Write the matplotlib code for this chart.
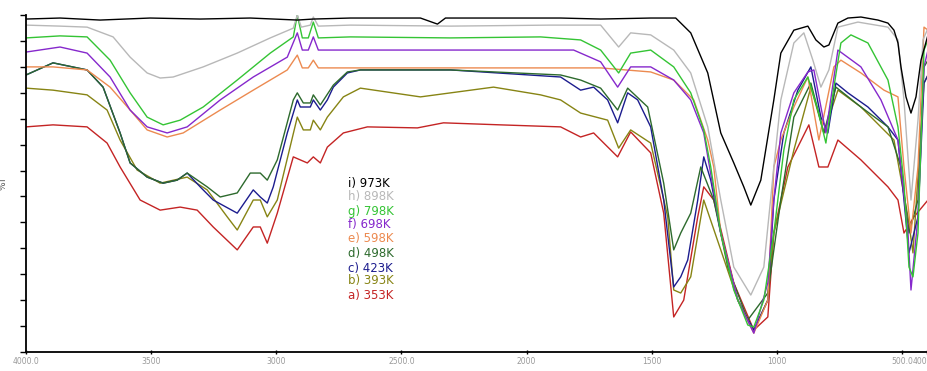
import matplotlib
matplotlib.use("Agg")
import matplotlib.pyplot as plt
import numpy as np

# wavenumber (cm-1) / %T, one pair of lists per sample
wn_i = [4000, 3864, 3704, 3504, 3304, 3104, 2916, 2852, 2704, 2424, 2356, 2324, 2104, 1864, 1704,
        1504, 1404, 1344, 1276, 1224, 1172, 1132, 1104, 1064, 1012, 984, 932, 876, 844, 812,
        792, 756, 716, 664, 596, 556, 532, 516, 504, 484, 464, 444, 424, 396]
t_i = [98.8, 99.1, 98.5, 99.1, 98.8, 99.1, 98.5, 98.8, 99.1, 99.1, 97.3, 99.1, 99.1, 99.1, 98.8,
       99.1, 99.1, 94.7, 82.8, 65.0, 56.1, 49.0, 43.6, 51.0, 74.8, 88.7, 95.5, 96.7, 92.6, 90.5,
       91.1, 97.6, 99.1, 99.4, 98.5, 97.6, 95.5, 91.7, 84.6, 75.7, 70.9, 75.7, 86.6, 94.1]

wn_h = [4000, 3864, 3756, 3652, 3584, 3516, 3464, 3412, 3292, 3156, 3024, 2932, 2916, 2900, 2864,
        2852, 2832, 2704, 2304, 1904, 1704, 1632, 1584, 1504, 1412, 1344, 1276, 1224, 1172, 1104,
        1052, 1012, 984, 932, 892, 856, 824, 792, 756, 676, 556, 516, 492, 464, 436, 416, 396]
t_h = [97.0, 96.7, 96.4, 93.5, 87.5, 82.8, 81.3, 81.6, 84.6, 88.7, 93.2, 96.1, 100.0, 96.4, 97.0,
       99.4, 96.7, 97.0, 96.7, 97.0, 97.0, 90.5, 94.7, 94.1, 89.6, 82.8, 66.8, 45.1, 25.2, 16.9,
       25.2, 54.9, 74.8, 91.7, 94.7, 86.6, 78.6, 83.7, 96.4, 97.9, 96.4, 92.6, 74.8, 45.1, 68.8,
       92.6, 96.1]

wn_g = [4000, 3864, 3756, 3664, 3584, 3516, 3452, 3384, 3292, 3156, 3024, 2932, 2916, 2896, 2872,
        2852, 2832, 2704, 2304, 1944, 1784, 1704, 1632, 1584, 1504, 1412, 1344, 1292, 1264, 1224,
        1172, 1116, 1092, 1052, 1012, 972, 932, 876, 836, 804, 772, 744, 704, 636, 556, 516,
        492, 472, 456, 436, 412, 396]
t_g = [93.2, 93.8, 93.5, 86.6, 76.9, 69.7, 67.4, 68.8, 72.7, 80.7, 88.7, 93.5, 100.0, 93.2, 93.2,
       97.9, 93.2, 93.5, 93.2, 93.5, 92.6, 89.6, 82.8, 88.7, 89.6, 84.6, 76.9, 65.9, 54.9, 35.3,
       18.4, 8.0, 7.4, 15.4, 35.3, 59.9, 74.8, 81.6, 71.8, 62.0, 78.6, 91.7, 94.1, 91.7, 80.7, 66.8,
       50.1, 25.2, 22.3, 35.3, 89.6, 92.6]

wn_f = [4000, 3864, 3756, 3664, 3584, 3516, 3436, 3356, 3224, 3092, 2956, 2916, 2896, 2872, 2852,
        2832, 2504, 2104, 1812, 1704, 1636, 1584, 1504, 1412, 1344, 1292, 1224, 1156, 1092, 1036,
        1012, 984, 932, 876, 852, 804, 756, 664, 584, 516, 476, 464, 436, 412, 396]
t_f = [89.0, 90.5, 88.7, 81.6, 71.8, 66.8, 65.0, 66.8, 74.8, 81.6, 87.5, 94.7, 89.6, 89.6, 93.5,
       89.6, 89.6, 89.6, 89.6, 86.1, 78.6, 84.6, 84.6, 80.7, 74.8, 65.0, 35.3, 15.4, 5.6, 20.5,
       45.1, 65.0, 76.9, 83.1, 83.7, 65.0, 89.6, 84.6, 74.8, 62.9, 35.3, 18.4, 40.1, 84.6, 89.6]

wn_e = [4000, 3892, 3756, 3664, 3584, 3516, 3436, 3372, 3224, 3092, 2956, 2916, 2896, 2872, 2852,
        2832, 2504, 2104, 1704, 1504, 1412, 1332, 1276, 1252, 1224, 1156, 1092, 1036, 1012, 984,
        932, 876, 832, 772, 744, 664, 572, 516, 492, 464, 436, 412, 396]
t_e = [84.6, 84.6, 83.7, 78.6, 71.8, 65.9, 63.8, 65.0, 71.8, 77.7, 83.7, 88.1, 84.3, 84.3, 86.6,
       84.3, 84.3, 84.3, 84.3, 83.1, 80.7, 74.8, 62.9, 54.9, 35.3, 15.4, 5.6, 15.4, 54.9, 62.9,
       72.7, 81.6, 62.9, 84.6, 86.6, 82.8, 77.7, 75.7, 54.9, 35.3, 54.9, 96.4, 95.5]

wn_d = [4000, 3892, 3756, 3692, 3624, 3584, 3516, 3452, 3396, 3356, 3276, 3224, 3156, 3104, 3064,
        3036, 2996, 2932, 2916, 2892, 2864, 2852, 2824, 2772, 2716, 2664, 2304, 1864, 1784, 1704,
        1636, 1596, 1516, 1452, 1412, 1384, 1344, 1304, 1252, 1196, 1116, 1036, 984, 932, 864,
        812, 764, 664, 556, 504, 472, 436, 412, 396]
t_d = [82.2, 85.8, 83.7, 78.6, 65.0, 56.1, 51.9, 50.1, 51.0, 53.1, 49.0, 46.0, 47.2, 53.1, 53.1,
       51.0, 57.0, 74.8, 76.9, 73.9, 73.9, 76.3, 73.3, 79.2, 83.1, 83.7, 83.7, 82.2, 80.7, 78.3,
       71.8, 78.3, 72.7, 50.1, 30.3, 35.3, 41.2, 54.9, 45.1, 25.2, 9.5, 17.5, 45.1, 69.7, 79.8,
       65.0, 78.6, 72.7, 66.8, 54.9, 35.3, 45.1, 84.6, 86.6]

wn_c = [4000, 3892, 3756, 3692, 3624, 3584, 3516, 3452, 3396, 3356, 3304, 3252, 3156, 3092, 3064,
        3036, 3012, 2956, 2916, 2904, 2864, 2852, 2824, 2796, 2772, 2716, 2664, 2304, 1864, 1784,
        1732, 1676, 1636, 1596, 1556, 1504, 1452, 1412, 1384, 1356, 1316, 1292, 1264, 1224, 1156,
        1092, 1036, 1012, 972, 916, 864, 824, 796, 764, 716, 636, 556, 516, 492, 472, 436, 412, 396]
t_c = [82.2, 85.8, 83.7, 78.6, 65.0, 56.1, 51.9, 50.1, 51.0, 53.1, 49.0, 45.1, 41.2, 48.1, 46.0,
       44.2, 49.0, 65.0, 74.8, 72.7, 72.7, 74.8, 71.8, 74.8, 78.6, 82.8, 83.7, 83.7, 81.6, 77.7,
       78.6, 74.8, 68.0, 76.9, 74.8, 66.8, 45.1, 19.3, 22.3, 27.3, 45.1, 57.9, 51.0, 35.3, 15.4,
       6.5, 15.4, 45.1, 65.0, 77.7, 84.6, 69.7, 65.0, 79.8, 76.9, 72.7, 66.8, 62.9, 45.1, 29.4,
       40.1, 79.8, 82.2]

wn_b = [4000, 3892, 3756, 3676, 3624, 3556, 3464, 3356, 3276, 3196, 3156, 3092, 3064, 3036, 2996,
        2916, 2892, 2864, 2852, 2824, 2796, 2732, 2664, 2424, 2132, 1944, 1864, 1784, 1676, 1632,
        1584, 1504, 1436, 1412, 1384, 1344, 1292, 1224, 1156, 1092, 1036, 1012, 932, 864, 812,
        756, 664, 532, 476, 456, 412, 396]
t_b = [78.3, 77.7, 76.3, 71.8, 62.9, 54.0, 50.1, 51.9, 48.1, 40.1, 36.2, 45.1, 45.1, 40.1, 45.1,
       69.7, 65.9, 65.9, 68.8, 65.9, 69.7, 75.7, 78.3, 75.7, 78.6, 76.3, 74.8, 70.9, 68.8, 60.5,
       65.9, 62.0, 40.1, 18.4, 17.5, 22.3, 45.1, 30.3, 15.4, 6.5, 15.4, 35.3, 59.9, 78.6, 65.0,
       77.7, 72.7, 62.9, 40.1, 29.4, 79.8, 82.2]

wn_a = [4000, 3892, 3756, 3676, 3624, 3544, 3464, 3384, 3316, 3252, 3156, 3092, 3064, 3036, 2996,
        2932, 2904, 2876, 2852, 2824, 2796, 2732, 2636, 2436, 2332, 2104, 1864, 1784, 1732, 1636,
        1584, 1504, 1452, 1412, 1372, 1316, 1292, 1252, 1172, 1092, 1036, 1012, 956, 872, 832,
        796, 756, 664, 556, 516, 492, 452, 396]
t_a = [66.8, 67.4, 66.8, 62.0, 54.9, 45.1, 42.1, 43.0, 42.1, 37.1, 30.3, 37.1, 37.1, 32.3, 41.2,
       57.9, 57.0, 56.1, 57.9, 56.1, 60.8, 65.0, 66.8, 66.5, 68.0, 67.4, 66.8, 63.8, 65.0, 57.9,
       65.3, 59.1, 41.2, 10.4, 15.4, 40.1, 49.0, 45.1, 20.5, 6.5, 10.4, 35.3, 54.9, 67.4, 54.9,
       54.9, 62.9, 57.0, 49.0, 45.1, 35.3, 40.1, 45.1]

labels = ["a) 353K", "b) 393K", "c) 423K", "d) 498K", "e) 598K",
          "f) 698K", "g) 798K", "h) 898K", "i) 973K"]
colors = ["#c42424", "#878414", "#1c1c8e", "#2d6a2d", "#ec8a50",
          "#8628cc", "#34c434", "#b8b8b8", "#000000"]
series = [(wn_a, t_a), (wn_b, t_b), (wn_c, t_c), (wn_d, t_d), (wn_e, t_e),
          (wn_f, t_f), (wn_g, t_g), (wn_h, t_h), (wn_i, t_i)]

xtick_vals = [4000, 3500, 3000, 2500, 2000, 1500, 1000, 500, 400]
xtick_labels = ["4000.0", "3500", "3000", "2500.0", "2000", "1500", "1000", "500.0", "400"]

fig = plt.figure(figsize=(9.27, 3.71), dpi=100)
ax = fig.add_axes([26 / 927, 19 / 371, 901 / 927, 337 / 371])

for (wn, t), c in zip(series, colors):
    ax.plot(wn, t, color=c, linewidth=1.0)

ax.set_xlim(4000, 400)
ax.set_ylim(0, 100)
ax.spines["top"].set_visible(False)
ax.spines["right"].set_visible(False)
ax.spines["left"].set_linewidth(1.3)
ax.spines["bottom"].set_linewidth(1.3)

ax.set_yticks(np.linspace(0, 100, 14))
ax.set_yticklabels([])
ax.tick_params(axis="y", direction="out", length=4, width=1)
ax.set_xticks(xtick_vals)
ax.set_xticklabels(xtick_labels, fontsize=5.5, color="#999999")
ax.get_xticklabels()[-1].set_horizontalalignment("right")
ax.tick_params(axis="x", direction="inout", length=3, width=1, pad=2)
ax.set_ylabel("%T", fontsize=6.5, color="#555555", labelpad=6)

# sample legend as coloured text, top to bottom i) ... a)
label_y = [50.1, 46.0, 41.8, 37.7, 33.8, 29.1, 24.9, 21.1, 16.9]
for i, (lab, c) in enumerate(zip(labels[::-1], colors[::-1])):
    ax.text(2712, label_y[i], lab, color=c, fontsize=8.5, ha="left", va="center")

plt.savefig("out.png", dpi=100)
plt.close()
